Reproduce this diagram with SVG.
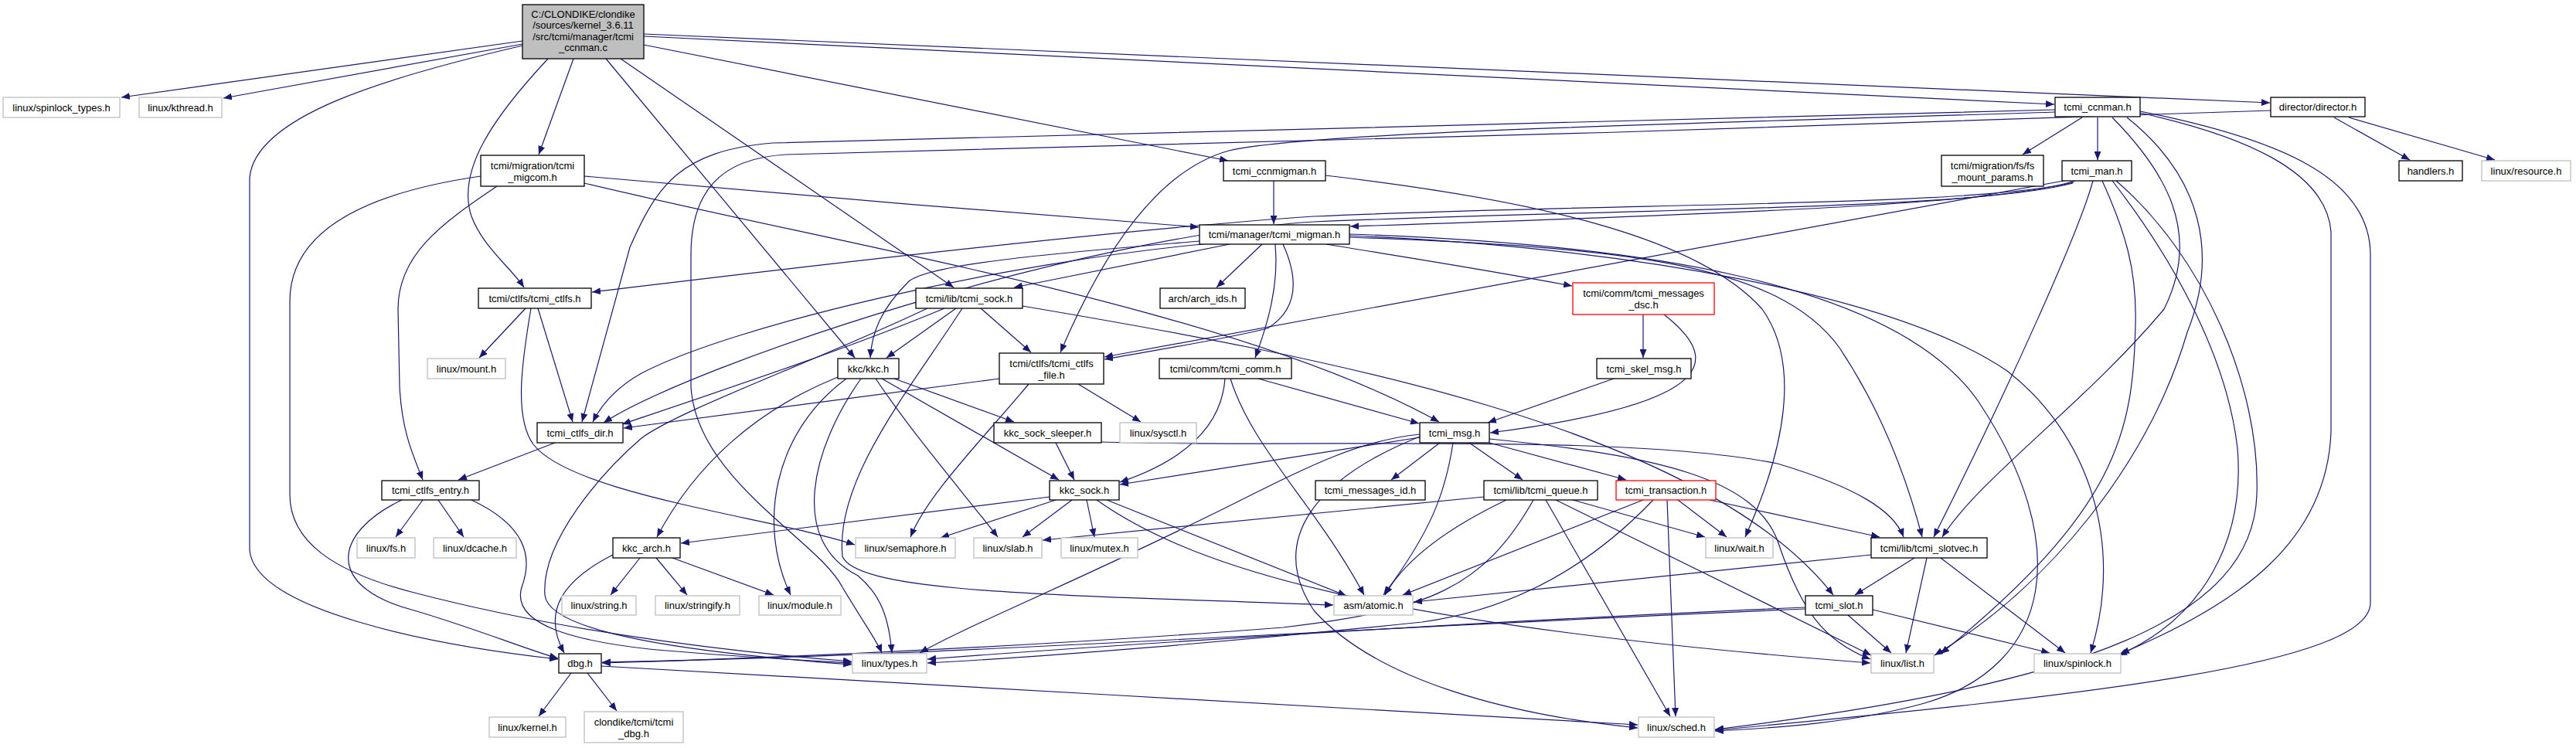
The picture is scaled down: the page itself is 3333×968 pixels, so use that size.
<svg xmlns="http://www.w3.org/2000/svg" width="3333" height="968" viewBox="0 0 3333 968">
<style>
rect{fill:#ffffff;stroke:#000000;stroke-width:1.3}
.g rect{stroke:#bfbfbf}
.r rect{stroke:#ff0000}
.root rect{fill:#bfbfbf}
text{font-family:"Liberation Sans",Arial,sans-serif;font-size:13px;text-anchor:middle;fill:#000}
.e path{fill:none;stroke:#191970;stroke-width:1.2;marker-end:url(#a)}
</style>
<defs>
<marker id="a" markerUnits="userSpaceOnUse" markerWidth="12" markerHeight="9" refX="11" refY="4.5" orient="auto"><path d="M0,0 L11,4.5 L0,9 z" fill="#191970"/></marker>
</defs>
<rect x="0" y="0" width="3333" height="968" style="fill:#fff;stroke:none"/>
<g id="connectors" class="e">
<path d="M676,53 L157,126"/>
<path d="M676,57 L289,127"/>
<path d="M676,59 C500,100 330,150 323,230 L323,712 C330,790 560,835 722,853"/>
<path d="M742,76 L697,200"/>
<path d="M709,76 C640,150 590,220 610,280 C625,320 660,345 678,372"/>
<path d="M784,76 L1106,463"/>
<path d="M803,76 L1234,372"/>
<path d="M833,58 L1589,208"/>
<path d="M833,47 L2658,135"/>
<path d="M833,44 L2937,133"/>
<path d="M2694,152 L2617,200"/>
<path d="M2714,152 L2714,207"/>
<path d="M3020,152 L3118,207"/>
<path d="M3039,152 L3228,207"/>
<path d="M756,228 C1000,250 1300,275 1551,294"/>
<path d="M1648,234 L1648,290"/>
<path d="M2685,234 C2600,262 2300,275 1747,293"/>
<path d="M2683,236 C2550,268 2100,262 1700,280 C1400,300 900,362 766,378"/>
<path d="M2682,237 C2550,272 2100,270 1700,287 C1400,305 900,470 781,547"/>
<path d="M2670,234 L1429,462"/>
<path d="M2708,234 C2690,300 2600,500 2502,695"/>
<path d="M2720,234 C2750,300 2765,350 2763,420 C2760,560 2740,660 2511,846"/>
<path d="M2733,234 C2800,320 2880,450 2895,580 C2905,700 2850,800 2741,848"/>
<path d="M2738,234 C2850,330 2925,500 2920,640 C2915,800 2700,885 2219,944"/>
<path d="M2659,142 L1000,185 C880,195 850,240 815,320 L753,546"/>
<path d="M2659,145 C2200,160 1700,170 1590,195 C1500,220 1430,320 1372,456"/>
<path d="M2938,143 C2400,165 1400,190 1017,200 C930,205 894,250 894,330 L894,500 C900,620 1060,700 1090,760 C1120,810 1135,830 1141,845"/>
<path d="M680,399 L620,463"/>
<path d="M696,399 L741,546"/>
<path d="M687,399 C675,470 665,540 690,575 C740,640 1000,670 1106,705"/>
<path d="M718,573 L593,621"/>
<path d="M643,241 C570,290 515,330 515,400 L517,500 C520,560 535,590 547,621"/>
<path d="M622,228 C470,250 375,300 375,390 L375,640 C375,700 430,740 536,767 C700,810 900,840 1102,856"/>
<path d="M756,237 C1100,320 1600,400 1862,546"/>
<path d="M1715,227 C2000,260 2200,310 2280,400 C2330,470 2310,580 2258,695"/>
<path d="M1591,316 L1312,372"/>
<path d="M1633,316 L1574,372"/>
<path d="M1650,316 C1655,370 1640,420 1624,463"/>
<path d="M1660,316 C1680,360 1680,400 1640,425 C1580,440 1500,452 1429,465"/>
<path d="M1552,312 C1400,325 1200,340 1175,365 C1140,400 1128,430 1126,463"/>
<path d="M1556,316 C1300,340 950,420 830,483 C800,500 780,520 767,546"/>
<path d="M1716,316 C1800,330 1900,345 2034,370"/>
<path d="M1746,307 C2100,320 2300,340 2380,450 C2440,540 2470,630 2487,695"/>
<path d="M1746,305 C2100,320 2450,380 2597,480 C2700,560 2750,700 2705,845"/>
<path d="M1746,303 C2100,315 2450,360 2560,520 C2680,700 2660,860 2490,910 C2400,935 2300,942 2219,946"/>
<path d="M1863,573 L1800,621"/>
<path d="M1901,573 L1970,621"/>
<path d="M1927,573 L2104,621"/>
<path d="M1837,566 L1449,627"/>
<path d="M1880,573 C1870,640 1850,690 1790,770"/>
<path d="M1837,562 C1760,570 1700,600 1600,650 C1400,750 1250,810 1190,845"/>
<path d="M1837,565 C1700,620 1640,700 1700,790 C1780,880 1950,925 2119,942"/>
<path d="M1927,568 C2150,590 2270,620 2300,700 C2330,790 2360,830 2420,853"/>
<path d="M2126,407 L2126,463"/>
<path d="M2153,407 C2220,460 2240,520 1928,560"/>
<path d="M2088,490 L1925,547"/>
<path d="M1628,490 L1836,548"/>
<path d="M1585,490 C1580,560 1520,600 1449,624"/>
<path d="M1592,490 C1620,580 1700,650 1765,770"/>
<path d="M1222,399 C1100,450 950,500 805,549"/>
<path d="M1237,399 L1147,463"/>
<path d="M1269,399 L1334,456"/>
<path d="M1245,399 C1180,500 1080,620 1090,720 C1110,770 1400,770 1725,783"/>
<path d="M1323,396 C1700,460 2200,550 2372,770"/>
<path d="M1200,399 C1050,470 880,530 830,567 C780,610 700,700 705,770 C710,820 900,845 1102,860"/>
<path d="M1293,490 L807,554"/>
<path d="M1395,497 L1476,546"/>
<path d="M1331,497 C1270,570 1200,640 1178,695"/>
<path d="M1084,488 C980,530 900,600 850,695"/>
<path d="M1095,490 C1000,560 980,680 1023,770"/>
<path d="M1114,490 C1050,580 1020,700 1110,745 C1140,770 1150,800 1154,845"/>
<path d="M1133,490 C1180,560 1240,630 1291,695"/>
<path d="M1141,490 L1370,621"/>
<path d="M1157,490 L1312,546"/>
<path d="M1366,573 L1390,621"/>
<path d="M1425,572 C1700,580 2100,560 2300,600 C2400,630 2450,660 2463,695"/>
<path d="M1366,647 L1217,696"/>
<path d="M1387,647 L1323,695"/>
<path d="M1406,647 L1416,695"/>
<path d="M1358,643 L881,703"/>
<path d="M1419,647 C1550,740 1800,810 2420,858"/>
<path d="M1432,647 L1742,771"/>
<path d="M1920,643 L1349,699"/>
<path d="M1949,647 C1880,680 1820,720 1792,770"/>
<path d="M2035,647 L2206,695"/>
<path d="M2000,647 L2161,927"/>
<path d="M2013,647 L2421,848"/>
<path d="M1984,647 C1920,760 1850,790 1660,812 C1300,840 900,855 779,858"/>
<path d="M2171,647 L2234,695"/>
<path d="M2212,647 L2432,695"/>
<path d="M2126,647 L1815,770"/>
<path d="M2157,647 L2168,927"/>
<path d="M2139,647 C2050,740 1950,790 1840,805 C1600,830 1350,850 1200,858"/>
<path d="M2336,786 C2000,800 1500,830 1200,853"/>
<path d="M2336,788 C1800,810 1200,850 779,857"/>
<path d="M2391,796 L2447,845"/>
<path d="M2423,789 L2652,845"/>
<path d="M2421,718 L1829,779"/>
<path d="M2477,722 L2400,770"/>
<path d="M2493,722 L2466,845"/>
<path d="M2511,722 L2672,845"/>
<path d="M793,718 C730,750 700,790 730,845"/>
<path d="M828,722 L790,770"/>
<path d="M849,722 L889,770"/>
<path d="M870,722 L1001,770"/>
<path d="M547,647 L512,695"/>
<path d="M567,647 L600,695"/>
<path d="M520,647 C430,690 420,760 536,790 C620,815 680,840 722,852"/>
<path d="M610,647 C680,680 690,720 675,760 C660,810 750,830 840,840 C950,850 1050,855 1102,858"/>
<path d="M739,871 L697,927"/>
<path d="M760,871 L798,920"/>
<path d="M778,862 C1200,885 1700,915 2119,938"/>
<path d="M2733,152 C2800,220 2850,300 2800,400 C2700,520 2560,620 2513,695"/>
<path d="M2752,152 C2850,230 2870,330 2830,430 C2780,600 2650,760 2503,848"/>
<path d="M2769,146 C2900,175 3010,220 3016,300 L3016,560 C3010,700 2900,780 2744,846"/>
<path d="M2769,144 C2950,180 3067,230 3067,330 L3067,780 C3067,860 2700,900 2219,945"/>
</g>
<g id="n_root" class="root"><rect x="676" y="6" width="157" height="70"/><text x="754.5" y="22.5">C:/CLONDIKE/clondike</text><text x="754.5" y="37">/sources/kernel_3.6.11</text><text x="754.5" y="51.5">/src/tcmi/manager/tcmi</text><text x="754.5" y="66">_ccnman.c</text></g>
<g id="n_spinlock_types" class="g"><rect x="4" y="126" width="151" height="26"/><text x="79.5" y="143.5">linux/spinlock_types.h</text></g>
<g id="n_kthread" class="g"><rect x="180" y="126" width="107" height="26"/><text x="233.5" y="143.5">linux/kthread.h</text></g>
<g id="n_migcom"><rect x="622" y="201" width="134" height="40"/><text x="689" y="218.5">tcmi/migration/tcmi</text><text x="689" y="233.5">_migcom.h</text></g>
<g id="n_ccnmigman"><rect x="1583" y="208" width="132" height="26"/><text x="1649" y="225.5">tcmi_ccnmigman.h</text></g>
<g id="n_migman"><rect x="1552" y="291" width="194" height="25"/><text x="1649" y="308">tcmi/manager/tcmi_migman.h</text></g>
<g id="n_ccnman"><rect x="2659" y="126" width="110" height="25"/><text x="2714" y="143">tcmi_ccnman.h</text></g>
<g id="n_director"><rect x="2938" y="126" width="122" height="25"/><text x="2999" y="143">director/director.h</text></g>
<g id="n_fs_mount"><rect x="2512" y="201" width="132" height="40"/><text x="2578" y="218.5">tcmi/migration/fs/fs</text><text x="2578" y="233.5">_mount_params.h</text></g>
<g id="n_man"><rect x="2668" y="208" width="90" height="26"/><text x="2713" y="225.5">tcmi_man.h</text></g>
<g id="n_handlers"><rect x="3104" y="208" width="82" height="26"/><text x="3145" y="225.5">handlers.h</text></g>
<g id="n_resource" class="g"><rect x="3211" y="208" width="115" height="26"/><text x="3268.5" y="225.5">linux/resource.h</text></g>
<g id="n_ctlfs"><rect x="619" y="373" width="146" height="26"/><text x="692" y="390.5">tcmi/ctlfs/tcmi_ctlfs.h</text></g>
<g id="n_mount" class="g"><rect x="553" y="464" width="101" height="26"/><text x="603.5" y="481.5">linux/mount.h</text></g>
<g id="n_ctlfs_dir"><rect x="695" y="547" width="111" height="26"/><text x="750.5" y="564.5">tcmi_ctlfs_dir.h</text></g>
<g id="n_ctlfs_entry"><rect x="494" y="622" width="126" height="25"/><text x="557" y="639">tcmi_ctlfs_entry.h</text></g>
<g id="n_sock"><rect x="1185" y="373" width="138" height="26"/><text x="1254" y="390.5">tcmi/lib/tcmi_sock.h</text></g>
<g id="n_arch_ids"><rect x="1501" y="373" width="110" height="26"/><text x="1556" y="390.5">arch/arch_ids.h</text></g>
<g id="n_kkc"><rect x="1084" y="464" width="79" height="26"/><text x="1123.5" y="481.5">kkc/kkc.h</text></g>
<g id="n_ctlfs_file"><rect x="1293" y="457" width="135" height="40"/><text x="1360.5" y="474.5">tcmi/ctlfs/tcmi_ctlfs</text><text x="1360.5" y="489.5">_file.h</text></g>
<g id="n_comm"><rect x="1500" y="464" width="171" height="26"/><text x="1585.5" y="481.5">tcmi/comm/tcmi_comm.h</text></g>
<g id="n_sleeper"><rect x="1286" y="547" width="139" height="26"/><text x="1355.5" y="564.5">kkc_sock_sleeper.h</text></g>
<g id="n_sysctl" class="g"><rect x="1449" y="547" width="99" height="26"/><text x="1498.5" y="564.5">linux/sysctl.h</text></g>
<g id="n_kkc_sock"><rect x="1358" y="622" width="90" height="25"/><text x="1403" y="639">kkc_sock.h</text></g>
<g id="n_messages_dsc" class="r"><rect x="2035" y="366" width="183" height="41"/><text x="2126.5" y="383.5">tcmi/comm/tcmi_messages</text><text x="2126.5" y="398.5">_dsc.h</text></g>
<g id="n_skel_msg"><rect x="2066" y="464" width="122" height="26"/><text x="2127" y="481.5">tcmi_skel_msg.h</text></g>
<g id="n_msg"><rect x="1837" y="547" width="90" height="26"/><text x="1882" y="564.5">tcmi_msg.h</text></g>
<g id="n_messages_id"><rect x="1702" y="622" width="142" height="25"/><text x="1773" y="639">tcmi_messages_id.h</text></g>
<g id="n_queue"><rect x="1920" y="622" width="147" height="25"/><text x="1993.5" y="639">tcmi/lib/tcmi_queue.h</text></g>
<g id="n_transaction" class="r"><rect x="2091" y="622" width="129" height="25"/><text x="2155.5" y="639">tcmi_transaction.h</text></g>
<g id="n_slotvec"><rect x="2421" y="696" width="150" height="26"/><text x="2496" y="713.5">tcmi/lib/tcmi_slotvec.h</text></g>
<g id="n_wait" class="g"><rect x="2207" y="696" width="87" height="26"/><text x="2250.5" y="713.5">linux/wait.h</text></g>
<g id="n_atomic" class="g"><rect x="1726" y="771" width="102" height="25"/><text x="1777" y="788">asm/atomic.h</text></g>
<g id="n_slot"><rect x="2336" y="771" width="87" height="25"/><text x="2379.5" y="788">tcmi_slot.h</text></g>
<g id="n_list" class="g"><rect x="2421" y="846" width="81" height="25"/><text x="2461.5" y="863">linux/list.h</text></g>
<g id="n_sched" class="g"><rect x="2120" y="928" width="98" height="26"/><text x="2169" y="945.5">linux/sched.h</text></g>
<g id="n_spinlock" class="g"><rect x="2632" y="846" width="112" height="25"/><text x="2688" y="863">linux/spinlock.h</text></g>
<g id="n_fs" class="g"><rect x="462" y="696" width="75" height="26"/><text x="499.5" y="713.5">linux/fs.h</text></g>
<g id="n_dcache" class="g"><rect x="561" y="696" width="107" height="26"/><text x="614.5" y="713.5">linux/dcache.h</text></g>
<g id="n_kkc_arch"><rect x="793" y="696" width="87" height="26"/><text x="836.5" y="713.5">kkc_arch.h</text></g>
<g id="n_string" class="g"><rect x="727" y="771" width="96" height="25"/><text x="775" y="788">linux/string.h</text></g>
<g id="n_dbg"><rect x="723" y="846" width="55" height="25"/><text x="750.5" y="863">dbg.h</text></g>
<g id="n_kernel" class="g"><rect x="633" y="928" width="99" height="26"/><text x="682.5" y="945.5">linux/kernel.h</text></g>
<g id="n_tcmi_dbg" class="g"><rect x="756" y="921" width="128" height="40"/><text x="820" y="938.5">clondike/tcmi/tcmi</text><text x="820" y="953.5">_dbg.h</text></g>
<g id="n_semaphore" class="g"><rect x="1107" y="696" width="129" height="26"/><text x="1171.5" y="713.5">linux/semaphore.h</text></g>
<g id="n_slab" class="g"><rect x="1260" y="696" width="88" height="26"/><text x="1304" y="713.5">linux/slab.h</text></g>
<g id="n_mutex" class="g"><rect x="1373" y="696" width="99" height="26"/><text x="1422.5" y="713.5">linux/mutex.h</text></g>
<g id="n_stringify" class="g"><rect x="848" y="771" width="109" height="25"/><text x="902.5" y="788">linux/stringify.h</text></g>
<g id="n_module" class="g"><rect x="982" y="771" width="106" height="25"/><text x="1035" y="788">linux/module.h</text></g>
<g id="n_types" class="g"><rect x="1103" y="846" width="96" height="25"/><text x="1151" y="863">linux/types.h</text></g>
</svg>
